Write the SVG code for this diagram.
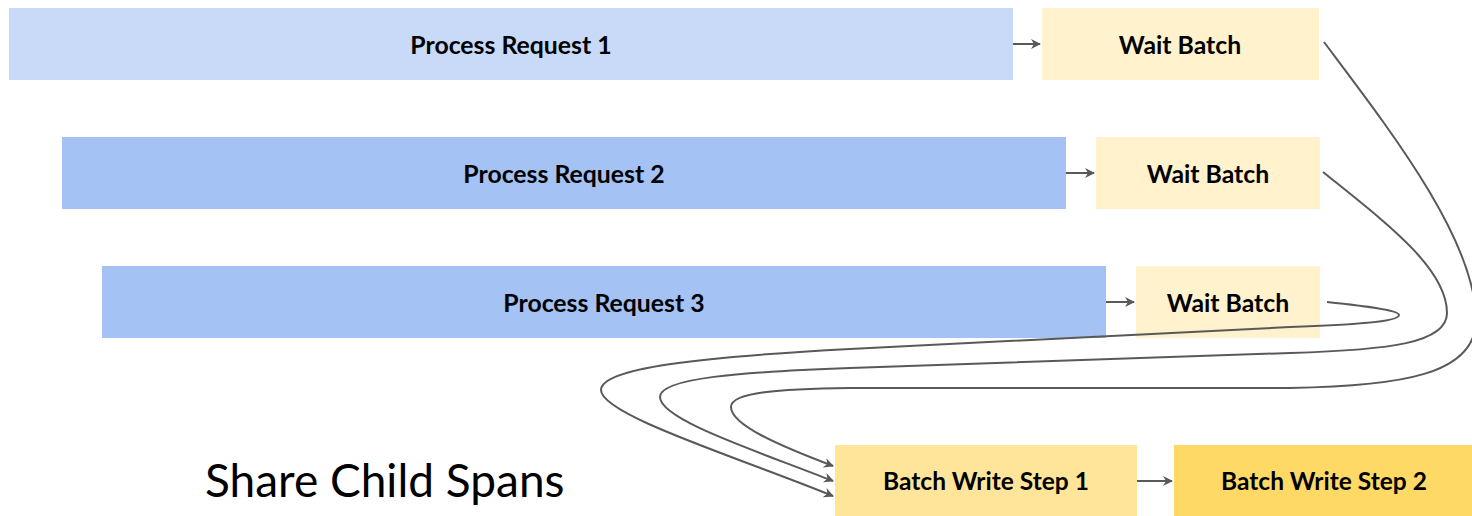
<svg xmlns="http://www.w3.org/2000/svg" width="1472" height="516" viewBox="0 0 1472 516">
<style>
.lbl{font-family:Lato,"Open Sans","Liberation Sans",sans-serif;font-weight:bold;font-size:24.8px;fill:#000;text-anchor:middle}
.sm{font-size:24.5px}
.title{font-family:Lato,"Open Sans","Liberation Sans",sans-serif;font-size:46px;fill:#000}
.con{fill:none;stroke:#595959;stroke-width:2}
</style>
<defs>
<marker id="ah" viewBox="0 0 10 10" refX="9" refY="5" markerWidth="5" markerHeight="5" orient="auto" markerUnits="strokeWidth">
<path d="M0,0 L10,5 L0,10 L3,5 Z" fill="#595959"/>
</marker>
</defs>
<rect width="1472" height="516" fill="#fff"/>
<g id="pr1"><rect x="9" y="8" width="1004" height="72" fill="#c9daf8"/><text class="lbl" x="511" y="54">Process Request 1</text></g>
<g id="wb1"><rect x="1042" y="8" width="277" height="72" fill="#fff2cc"/><text class="lbl" x="1180" y="54">Wait Batch</text></g>
<g id="pr2"><rect x="62" y="137" width="1004" height="72" fill="#a4c2f4"/><text class="lbl" x="564" y="183">Process Request 2</text></g>
<g id="wb2"><rect x="1096" y="137" width="224" height="72" fill="#fff2cc"/><text class="lbl" x="1208" y="183">Wait Batch</text></g>
<g id="pr3"><rect x="102" y="266" width="1004" height="72" fill="#a4c2f4"/><text class="lbl" x="604" y="312">Process Request 3</text></g>
<g id="wb3"><rect x="1136" y="266" width="184" height="72" fill="#fff2cc"/><text class="lbl" x="1228" y="312">Wait Batch</text></g>
<g id="bw1"><rect x="835" y="445" width="302" height="71" fill="#ffe599"/><text class="lbl sm" x="986" y="490">Batch Write Step 1</text></g>
<g id="bw2"><rect x="1174" y="445" width="298" height="71" fill="#ffd966"/><text class="lbl sm" x="1324" y="490">Batch Write Step 2</text></g>
<g id="title"><text class="title" x="205" y="497">Share Child Spans</text></g>
<g id="connectors">
<path class="con" marker-end="url(#ah)" d="M1013,44 L1040,44"/>
<path class="con" marker-end="url(#ah)" d="M1066,173 L1094,173"/>
<path class="con" marker-end="url(#ah)" d="M1106,302 L1134,302"/>
<path class="con" marker-end="url(#ah)" d="M1137,481 L1172,481"/>
<path class="con" marker-end="url(#ah)" d="M1324,42 C1390,130 1476,240 1476,320 C1476,375 1400,386 1290,388 L850,388 C780,389 731,392 731,407 C731,425 780,446 833,466"/>
<path class="con" marker-end="url(#ah)" d="M1323,172 C1385,222 1447,268 1447,313 C1447,343 1390,350 1290,353 L850,368 C740,372 660,378 660,397 C660,420 760,452 833,481"/>
<path class="con" marker-end="url(#ah)" d="M1327,302 C1365,306 1399,310 1399,315 C1399,322 1350,325 1290,327 L850,349 C700,357 601,368 601,390 C601,415 740,458 833,496"/>
</g>
</svg>
